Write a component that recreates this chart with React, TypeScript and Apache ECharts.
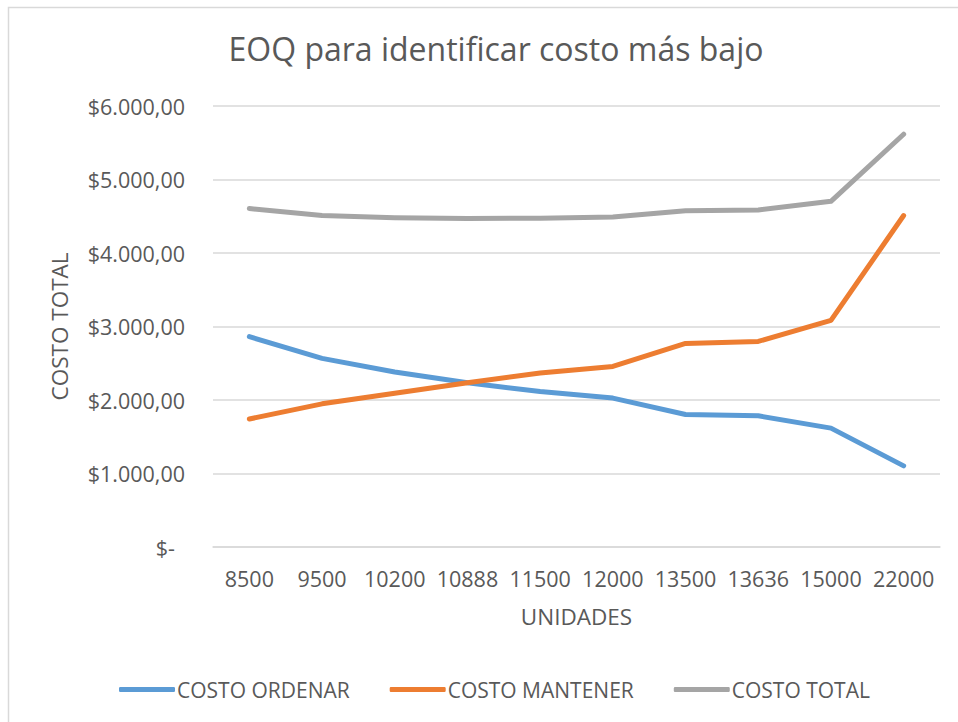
import React, { useEffect, useRef } from "react";
import * as echarts from "echarts";

const categories = ["8500", "9500", "10200", "10888", "11500", "12000", "13500", "13636", "15000", "22000"];
const costoOrdenar = [2862, 2566, 2380, 2234, 2115, 2026, 1803, 1785, 1617, 1104];
const costoMantener = [1741, 1948, 2092, 2236, 2366, 2457, 2770, 2797, 3083, 4510];
const costoTotal = [4605, 4510, 4480, 4469, 4473, 4490, 4576, 4585, 4703, 5616];
const seriesNames = ["COSTO ORDENAR", "COSTO MANTENER", "COSTO TOTAL"];
const colors = ["#5B9BD5", "#ED7D31", "#A5A5A5"];

const FONT = "'Open Sans', 'Noto Sans', sans-serif";
const TEXT = "#595959";

function fmtMoney(v: number): string {
  if (v === 0) return "{dash|$-}";
  const s = Math.round(v).toString().replace(/\B(?=(\d{3})+(?!\d))/g, ".");
  return "$" + s + ",00";
}

export default function App() {
  const ref = useRef<HTMLDivElement>(null);
  useEffect(() => {
    if (!ref.current) return;
    const chart = echarts.init(ref.current, undefined, { renderer: "svg" });
    const data = [costoOrdenar, costoMantener, costoTotal];
    chart.setOption({
      animation: false,
      backgroundColor: "#ffffff",
      textStyle: { fontFamily: FONT, color: TEXT },
      title: {
        text: "EOQ para identificar costo más bajo",
        left: 491,
        top: 27,
        textAlign: "center",
        textStyle: { fontFamily: FONT, fontSize: 32, fontWeight: "normal", color: TEXT },
      },
      graphic: [
        {
          type: "rect",
          shape: { x: 8.5, y: 7.5, width: 980, height: 760 },
          style: { fill: "none", stroke: "#D9D9D9", lineWidth: 1.5 },
          silent: true,
        },
      ],
      legend: {
        left: 114,
        top: 674,
        itemWidth: 56,
        itemHeight: 5,
        itemGap: 40,
        icon: "roundRect",
        data: seriesNames,
        textStyle: { fontFamily: FONT, fontSize: 21, color: TEXT, padding: [0, 0, 0, -3] },
      },
      grid: { left: 213, right: 18, top: 106, bottom: 175, containLabel: false },
      xAxis: {
        type: "category",
        data: categories,
        boundaryGap: true,
        axisLine: { show: true, lineStyle: { color: "#D9D9D9", width: 1.5 } },
        axisTick: { show: false },
        axisLabel: { fontFamily: FONT, fontSize: 21.5, color: TEXT, margin: 20, interval: 0 },
        name: "UNIDADES",
        nameLocation: "middle",
        nameGap: 58,
        nameTextStyle: { fontFamily: FONT, fontSize: 22.5, color: TEXT },
      },
      yAxis: {
        type: "value",
        min: 0,
        max: 6000,
        interval: 1000,
        axisLine: { show: false },
        axisTick: { show: false },
        splitLine: { lineStyle: { color: "#D9D9D9", width: 1.5 } },
        axisLabel: {
          fontFamily: FONT,
          fontSize: 21.5,
          color: TEXT,
          margin: 28,
          formatter: (v: number) => fmtMoney(v),
          rich: { dash: { fontFamily: FONT, fontSize: 21.5, color: TEXT, padding: [0, 10, 0, 0] } },
        },
        name: "COSTO TOTAL",
        nameLocation: "middle",
        nameGap: 142,
        nameRotate: 90,
        nameTextStyle: { fontFamily: FONT, fontSize: 22.5, color: TEXT },
      },
      series: seriesNames.map((name, i) => ({
        name,
        type: "line",
        data: data[i],
        symbol: "none",
        color: colors[i],
        lineStyle: { width: 5, color: colors[i], cap: "round", join: "round" },
      })),
    });
    return () => chart.dispose();
  }, []);
  return (
    <div
      ref={ref}
      style={{ position: "fixed", left: 0, top: 0, width: 958, height: 722, background: "#fff" }}
    />
  );
}
